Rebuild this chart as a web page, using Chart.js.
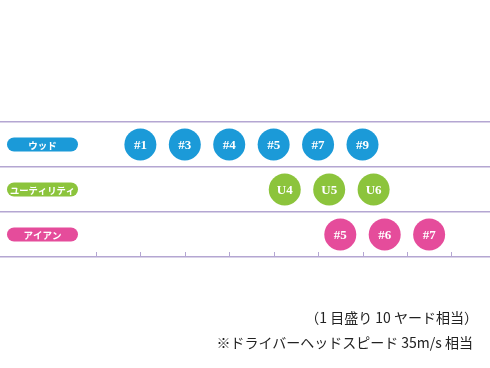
<!DOCTYPE html>
<html lang="ja">
<head>
    <meta charset="UTF-8">
    <title>番手別の飛距離</title>
    <style>
        body {
            margin: 0;
            background-color: #ffffff;
        }
        #wrap {
            position: relative;
            width: 490px;
            height: 368px;
        }
        .note {
            position: absolute;
            font-family: "Noto Sans CJK JP", sans-serif;
            font-size: 14px;
            color: #222;
            white-space: nowrap;
        }
    </style>
    <script src="https://cdn.jsdelivr.net/npm/chart.js"></script>
</head>
<body>
<div id="wrap">
    <canvas id="clubChart" width="490" height="368"></canvas>
    <div class="note" style="top:307px; right:12px;">（1 目盛り 10 ヤード相当）</div>
    <div class="note" style="top:332px; right:17px;">※ドライバーヘッドスピード 35m/s 相当</div>
</div>
<script>
    // rows (top to bottom)
    const rowNames = ['ウッド', 'ユーティリティ', 'アイアン'];
    const rowColors = ['#1b9ad8', '#8cc43c', '#e54c9b'];

    // position of each club, in scale divisions (1 division = 10 yards)
    const woodLabels = ['#1', '#3', '#4', '#5', '#7', '#9'];
    const woodPos = [1, 2, 3, 4, 5, 6];
    const utilLabels = ['U4', 'U5', 'U6'];
    const utilPos = [4.25, 5.25, 6.25];
    const ironLabels = ['#5', '#6', '#7'];
    const ironPos = [5.5, 6.5, 7.5];

    // tick marks along the bottom line
    const tickPos = [0, 1, 2, 3, 4, 5, 6, 7, 8];

    const lineColor = '#b4a6d2';

    function rowData(pos, row) {
        return pos.map(x => ({ x: x, y: row + 0.5 }));
    }

    const datasets = [
        { labels: woodLabels, data: rowData(woodPos, 0), backgroundColor: rowColors[0] },
        { labels: utilLabels, data: rowData(utilPos, 1), backgroundColor: rowColors[1] },
        { labels: ironLabels, data: rowData(ironPos, 2), backgroundColor: rowColors[2] }
    ].map(d => Object.assign(d, { pointRadius: 16, pointHoverRadius: 16, borderWidth: 0 }));

    // club names inside the circles
    const clubText = {
        id: 'clubText',
        afterDatasetsDraw(chart) {
            const ctx = chart.ctx;
            ctx.save();
            ctx.fillStyle = '#fff';
            ctx.font = 'bold 13px "Liberation Serif", serif';
            ctx.textAlign = 'center';
            ctx.textBaseline = 'middle';
            chart.data.datasets.forEach((ds, i) => {
                chart.getDatasetMeta(i).data.forEach((pt, j) => {
                    ctx.fillText(ds.labels[j], pt.x, pt.y + 1);
                });
            });
            ctx.restore();
        }
    };

    // row name pills on the left + tick marks on bottom line
    const rowPills = {
        id: 'rowPills',
        afterDraw(chart) {
            const ctx = chart.ctx;
            const y = chart.scales.y;
            const x = chart.scales.x;
            ctx.save();
            rowNames.forEach((name, i) => {
                const cy = y.getPixelForValue(i + 0.5);
                const left = 7, w = 71, h = 14;
                ctx.fillStyle = rowColors[i];
                ctx.beginPath();
                ctx.roundRect(left, cy - h / 2, w, h, h / 2);
                ctx.fill();
                ctx.fillStyle = '#fff';
                ctx.font = 'bold 9.5px "Noto Sans CJK JP", sans-serif';
                ctx.textAlign = 'center';
                ctx.textBaseline = 'middle';
                ctx.fillText(name, left + w / 2, cy + 0.5, w - 6);
            });
            const bottom = chart.chartArea.bottom;
            ctx.strokeStyle = lineColor;
            ctx.lineWidth = 1;
            tickPos.forEach(t => {
                const px = Math.round(x.getPixelForValue(t)) + 0.5;
                ctx.beginPath();
                ctx.moveTo(px, bottom);
                ctx.lineTo(px, bottom - 5);
                ctx.stroke();
            });
            ctx.restore();
        }
    };

    new Chart(document.getElementById('clubChart'), {
        type: 'scatter',
        data: { datasets: datasets },
        options: {
            responsive: false,
            animation: false,
            events: [],
            layout: { autoPadding: false, padding: { top: 122, bottom: 111, left: 0, right: 0 } },
            scales: {
                x: {
                    type: 'linear',
                    display: false,
                    min: -2.16,
                    max: 8.87
                },
                y: {
                    type: 'linear',
                    reverse: true,
                    min: 0,
                    max: 3,
                    ticks: { display: false, stepSize: 1 },
                    grid: { drawTicks: false, color: lineColor, lineWidth: 1.5 },
                    border: { display: false }
                }
            },
            plugins: {
                legend: { display: false },
                tooltip: { enabled: false }
            }
        },
        plugins: [clubText, rowPills]
    });
</script>
</body>
</html>
